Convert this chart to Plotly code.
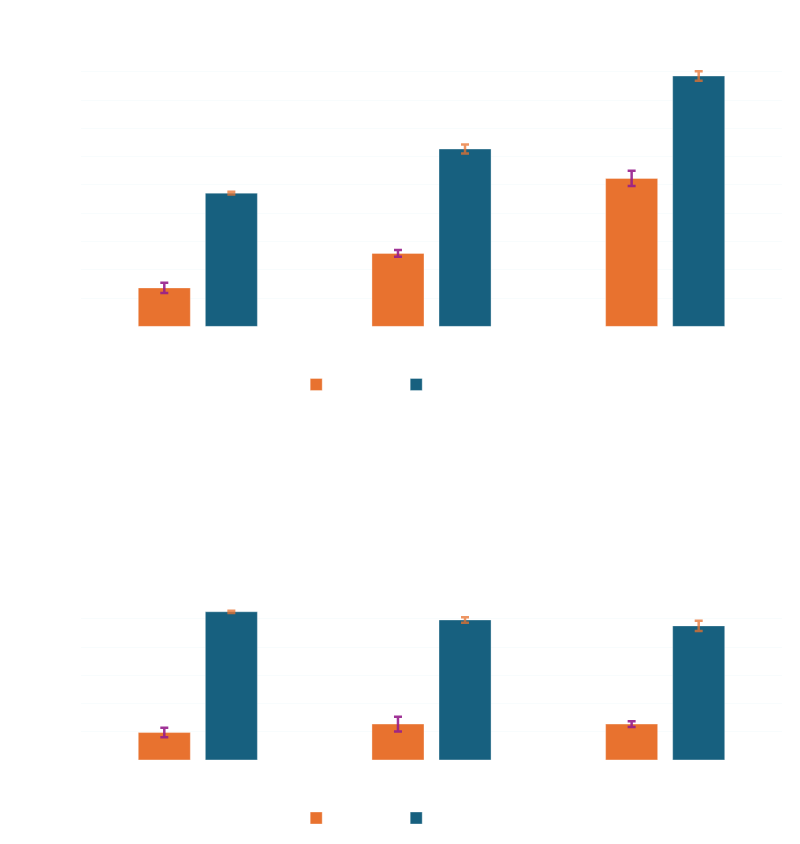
import plotly.graph_objects as go
from plotly.subplots import make_subplots

categories = ["Group A", "Group B", "Group C"]
series_names = ["Control", "Treatment"]

top_control = [13.6, 25.8, 52.3]
top_control_err = [1.8, 1.2, 2.7]
top_treatment = [47.1, 62.7, 88.5]
top_treatment_err = [0.5, 1.6, 1.7]

bottom_control = [9.7, 12.7, 12.7]
bottom_control_err = [1.7, 2.6, 1.0]
bottom_treatment = [52.5, 49.6, 47.5]
bottom_treatment_err = [0.4, 1.0, 1.8]

ORANGE = "#E8722F"
BLUE = "#17607F"
ERR_PURPLE = "rgba(150,30,140,0.9)"
ERR_ORANGE = "rgba(232,114,46,0.75)"
TEXT = "#FFFFFF"
GRID = "rgba(225,240,245,0.22)"

fig = make_subplots(rows=2, cols=1, vertical_spacing=0.1)

def add_pair(row, c_vals, c_err, t_vals, t_err, legend, show):
    fig.add_trace(go.Bar(
        x=categories, y=c_vals, name=series_names[0],
        marker=dict(color=ORANGE, line=dict(color="rgba(255,255,255,0.35)", width=1)),
        error_y=dict(type="data", array=c_err, color=ERR_PURPLE, thickness=2.5, width=4),
        legend=legend, showlegend=show,
    ), row=row, col=1)
    fig.add_trace(go.Bar(
        x=categories, y=t_vals, name=series_names[1],
        marker=dict(color=BLUE, line=dict(color="rgba(255,255,255,0.35)", width=1)),
        error_y=dict(type="data", array=t_err, color=ERR_ORANGE, thickness=2.5, width=4),
        legend=legend, showlegend=show,
    ), row=row, col=1)

add_pair(1, top_control, top_control_err, top_treatment, top_treatment_err, "legend", True)
add_pair(2, bottom_control, bottom_control_err, bottom_treatment, bottom_treatment_err, "legend2", True)

H = 844
K = 0.9893  # observed vertical screen/figure ratio

def py(px):
    return 1 - (px / K) / H

def dom(top_px, bot_px):
    return [py(bot_px), py(top_px)]

fig.update_layout(
    width=800, height=844,
    margin=dict(l=81, r=18, t=0, b=0),
    paper_bgcolor="rgba(0,0,0,0)",
    plot_bgcolor="rgba(0,0,0,0)",
    font=dict(family="Open Sans", size=12, color=TEXT),
    barmode="group", bargap=0.426, bargroupgap=0.224,
    title=dict(text="Measured outcome by group", x=0.5, y=0.975, font=dict(color=TEXT, size=16)),
    legend=dict(orientation="h", x=0.307, xanchor="left", y=py(384), yanchor="middle",
                entrywidth=55, font=dict(color=TEXT), bgcolor="rgba(0,0,0,0)"),
    legend2=dict(orientation="h", x=0.307, xanchor="left", y=py(817), yanchor="middle",
                 entrywidth=55, font=dict(color=TEXT), bgcolor="rgba(0,0,0,0)"),
    yaxis=dict(domain=dom(59, 326), range=[0, 94.5], dtick=10, gridcolor=GRID,
               zeroline=False, tickfont=dict(color=TEXT), title=dict(text="Value", font=dict(color=TEXT))),
    yaxis2=dict(domain=dom(602, 759), range=[0, 55.7], dtick=10, gridcolor=GRID,
                zeroline=False, tickfont=dict(color=TEXT), title=dict(text="Value", font=dict(color=TEXT))),
    xaxis=dict(showgrid=False, tickfont=dict(color=TEXT)),
    xaxis2=dict(showgrid=False, tickfont=dict(color=TEXT)),
)

fig.write_html("out.html")
